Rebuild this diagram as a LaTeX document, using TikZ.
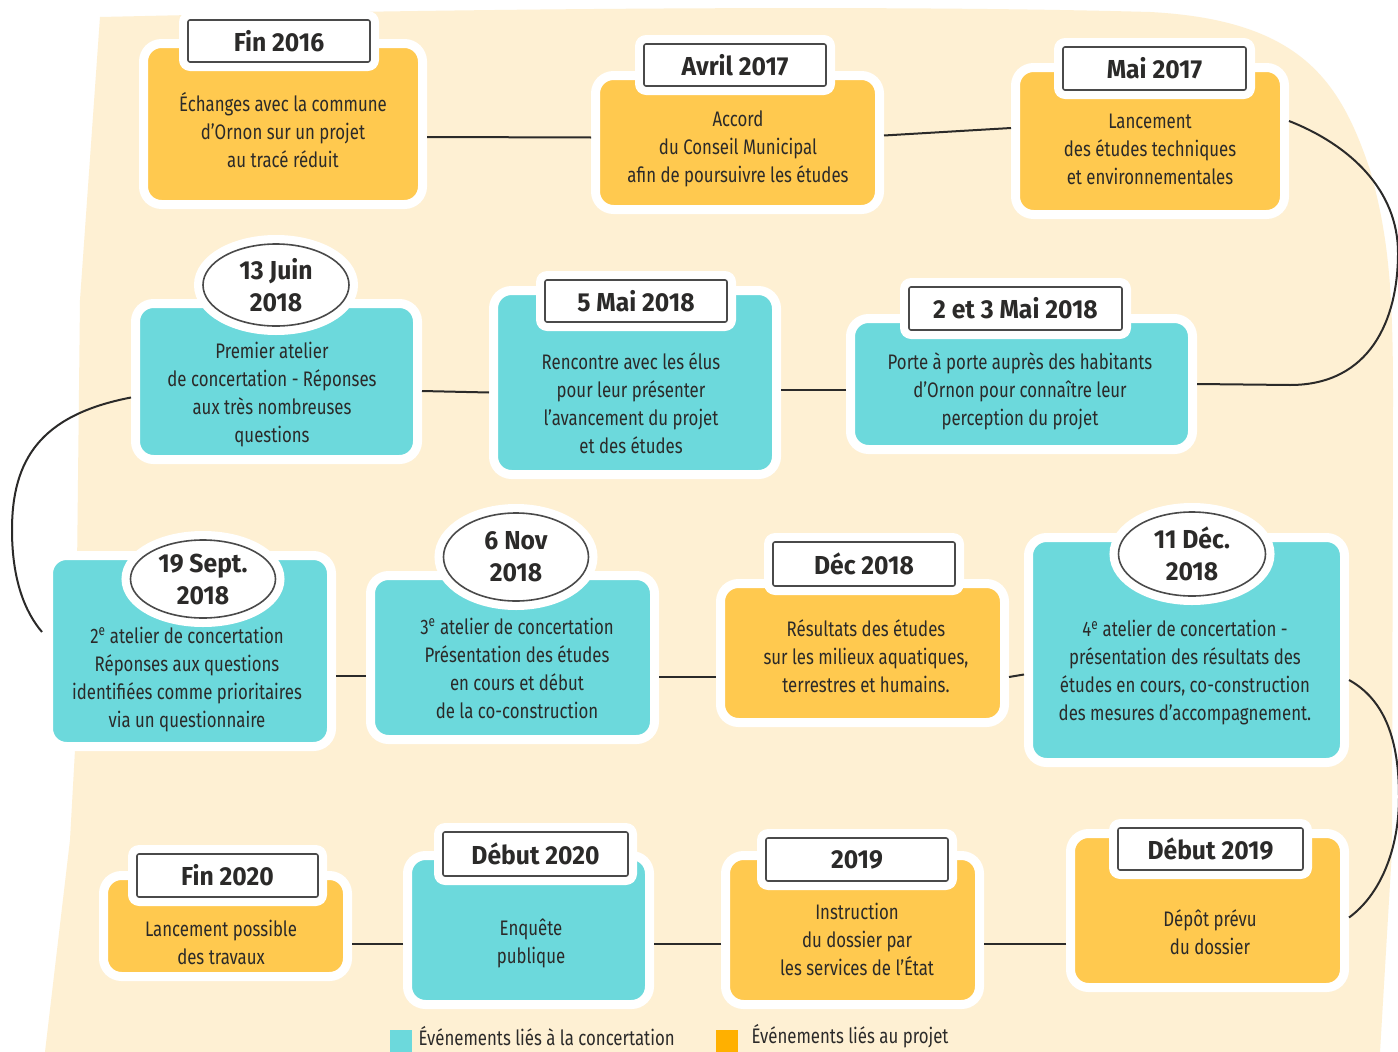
\documentclass[tikz,border=0pt]{standalone}
\usepackage{fontspec}
\setmainfont{Fira Sans}[FakeStretch=0.8]
\newfontfamily\datefont{Fira Sans}[FakeStretch=0.95]
\usetikzlibrary{shapes.geometric}
\definecolor{cream}{HTML}{FEF0D3}
\definecolor{ylw}{HTML}{FFC94F}
\definecolor{cyn}{HTML}{6CD9DC}
\definecolor{ink}{HTML}{2B2A29}
\definecolor{lblgray}{HTML}{4A4A4A}
\definecolor{legorange}{HTML}{FFB000}
\tikzset{
  card/.style={rectangle, rounded corners=18pt, fill=#1, draw=white, line width=9pt, inner sep=0pt},
  datebox/.style={rectangle, fill=white, draw=lblgray, line width=1.6pt, rounded corners=2pt,
    preaction={draw=white, line width=18pt, line join=round},
    font=\datefont\bfseries\fontsize{26}{28}\selectfont, text=ink, inner sep=0pt},
  dateoval/.style={ellipse, fill=white, draw=lblgray, line width=1.6pt,
    preaction={draw=white, line width=18pt},
    font=\datefont\bfseries\fontsize{26}{32}\selectfont, text=ink, align=center, inner sep=0pt},
  body/.style={font=\fontsize{21}{28}\selectfont, text=ink, align=center},
  link/.style={draw=ink, line width=2pt},
  legsq/.style={rectangle, fill=#1, minimum size=22pt, inner sep=0pt},
}
\begin{document}
\begin{tikzpicture}[x=1pt,y=-1pt]
\useasboundingbox (0,0) rectangle (1398,1052);
\fill[white] (0,0) rectangle (1398,1052);
% background
\fill[cream] (45,1052) -- (70,840) -- (75,750) -- (80,300) -- (100,17) -- (145,16)
  .. controls (500,8) and (900,5) .. (1150,12)
  .. controls (1300,20) and (1340,80) .. (1370,170)
  .. controls (1390,240) and (1393,300) .. (1393,400)
  -- (1392,850) -- (1380,1052) -- cycle;

% cards
\node[card=ylw, minimum width=279pt, minimum height=161pt] (c1) at (283,124) {};
\node[card=ylw, minimum width=284pt, minimum height=134pt] (c2) at (737.5,142.5) {};
\node[card=ylw, minimum width=269pt, minimum height=147pt] (c3) at (1150,141) {};
\node[card=cyn, minimum width=282pt, minimum height=156pt] (c4) at (276.5,381.5) {};
\node[card=cyn, minimum width=283pt, minimum height=184pt] (c5) at (635,382.5) {};
\node[card=cyn, minimum width=342pt, minimum height=131pt] (c6) at (1021.5,384) {};
\node[card=cyn, minimum width=283pt, minimum height=191pt] (c7) at (190,651) {};
\node[card=cyn, minimum width=284pt, minimum height=164pt] (c8) at (512.5,657.5) {};
\node[card=ylw, minimum width=284pt, minimum height=139pt] (c9) at (862.5,653) {};
\node[card=cyn, minimum width=316pt, minimum height=225pt] (c10) at (1186.5,650) {};
\node[card=ylw, minimum width=244pt, minimum height=101pt] (c11) at (225.5,926) {};
\node[card=cyn, minimum width=242pt, minimum height=149pt] (c12) at (528.5,930) {};
\node[card=ylw, minimum width=254pt, minimum height=149pt] (c13) at (852.5,930) {};
\node[card=ylw, minimum width=274pt, minimum height=154pt] (c14) at (1207.5,910.5) {};

% date labels
\node[datebox, minimum width=182pt, minimum height=42pt] (d1) at (279,41) {Fin 2016};
\node[datebox, minimum width=182pt, minimum height=42pt] (d2) at (735,65) {Avril 2017};
\node[datebox, minimum width=183pt, minimum height=43pt] (d3) at (1154.5,68.5) {Mai 2017};
\node[dateoval, minimum width=146pt, minimum height=82pt] (d4) at (276,285) {13 Juin\\2018};
\node[datebox, minimum width=182pt, minimum height=42pt] (d5) at (636,301) {5 Mai 2018};
\node[datebox, minimum width=213pt, minimum height=43pt] (d6) at (1015.5,308.5) {2 et 3 Mai 2018};
\node[dateoval, minimum width=145pt, minimum height=78pt] (d7) at (203,579) {19 Sept.\\2018};
\node[dateoval, minimum width=145pt, minimum height=88pt] (d8) at (516,557) {6 Nov\\2018};
\node[datebox, minimum width=182pt, minimum height=44pt] (d9) at (864,564) {Déc 2018};
\node[dateoval, minimum width=147pt, minimum height=84pt] (d10) at (1192,554) {11 Déc.\\2018};
\node[datebox, minimum width=181pt, minimum height=43pt] (d11) at (227.5,875.5) {Fin 2020};
\node[datebox, minimum width=185pt, minimum height=44pt] (d12) at (535.5,854) {Début 2020};
\node[datebox, minimum width=182pt, minimum height=43pt] (d13) at (857,859.5) {2019};
\node[datebox, minimum width=185pt, minimum height=42pt] (d14) at (1210.5,849) {Début 2019};

% texts
\node[body] (t1) at (283,130) {Échanges avec la commune\\d’Ornon sur un projet\\au tracé réduit};
\node[body] (t2) at (738,149) {Accord\\du Conseil Municipal\\afin de poursuivre les études};
\node[body] (t3) at (1150,149.5) {Lancement\\des études techniques\\et environnementales};
\node[body] (t4) at (272,395) {Premier atelier\\de concertation - Réponses\\aux très nombreuses\\questions};
\node[body] (t5) at (631,403.5) {Rencontre avec les élus\\pour leur présenter\\l’avancement du projet\\et des études};
\node[body] (t6) at (1020,391) {Porte à porte auprès des habitants\\d’Ornon pour connaître leur\\perception du projet};
\node[body] (t7) at (187,679.5) {2\textsuperscript{e} atelier de concertation\\Réponses aux questions\\identifiées comme prioritaires\\via un questionnaire};
\node[body] (t8) at (517,668) {3\textsuperscript{e} atelier de concertation\\Présentation des études\\en cours et début\\de la co-construction};
\node[body] (t9) at (866,656.5) {Résultats des études\\sur les milieux aquatiques,\\terrestres et humains.};
\node[body] (t10) at (1185,673) {4\textsuperscript{e} atelier de concertation -\\présentation des résultats des\\études en cours, co-construction\\des mesures d’accompagnement.};
\node[body] (t11) at (221,942.5) {Lancement possible\\des travaux};
\node[body] (t12) at (531,943.5) {Enquête\\publique};
\node[body] (t13) at (857,939.5) {Instruction\\du dossier par\\les services de l’État};
\node[body] (t14) at (1210,932.5) {Dépôt prévu\\du dossier};

% connectors
\coordinate (k7in) at (42,632);
\draw[link] ([yshift=-13pt]c1.east) -- ([yshift=5pt]c2.west);
\draw[link] ([yshift=7pt]c2.east) -- ([yshift=13pt]c3.west);
\draw[link] ([yshift=20pt]c3.east) .. controls (1350,145) and (1398,190) .. (1398,253)
  .. controls (1398,320) and (1370,385) .. (1290,385) -- (c6.east);
\draw[link] ([yshift=-6pt]c6.west) -- ([yshift=-7.5pt]c5.east);
\draw[link] ([yshift=-10pt]c5.west) -- ([yshift=-9.5pt]c4.east);
\draw[link] ([yshift=-16pt]c4.west) .. controls (40,415) and (12,460) .. (12,530)
  .. controls (12,580) and (25,612) .. (k7in);
\draw[link] ([yshift=-25pt]c7.east) -- ([yshift=-18.5pt]c8.west);
\draw[link] ([yshift=-19.5pt]c8.east) -- ([yshift=-24pt]c9.west);
\draw[link] ([yshift=-24pt]c9.east) -- ([yshift=-24.5pt]c10.west);
\draw[link] ([yshift=-30pt]c10.east) .. controls (1385,700) and (1399,740) .. (1399,797)
  .. controls (1399,850) and (1380,895) .. ([yshift=-7pt]c14.east);
\draw[link] ([yshift=-33.5pt]c14.west) -- ([yshift=-14pt]c13.east);
\draw[link] ([yshift=-14pt]c13.west) -- ([yshift=-14pt]c12.east);
\draw[link] ([yshift=-14pt]c12.west) -- ([yshift=-18pt]c11.east);

% legend
\node[legsq=cyn] (k1) at (401,1041) {};
\node[body, anchor=west] (k1t) at (415,1036) {Événements liés à la concertation};
\node[legsq=legorange] (k2) at (727,1041) {};
\node[body, anchor=west] (k2t) at (748,1036) {Événements liés au projet};
\end{tikzpicture}
\end{document}
